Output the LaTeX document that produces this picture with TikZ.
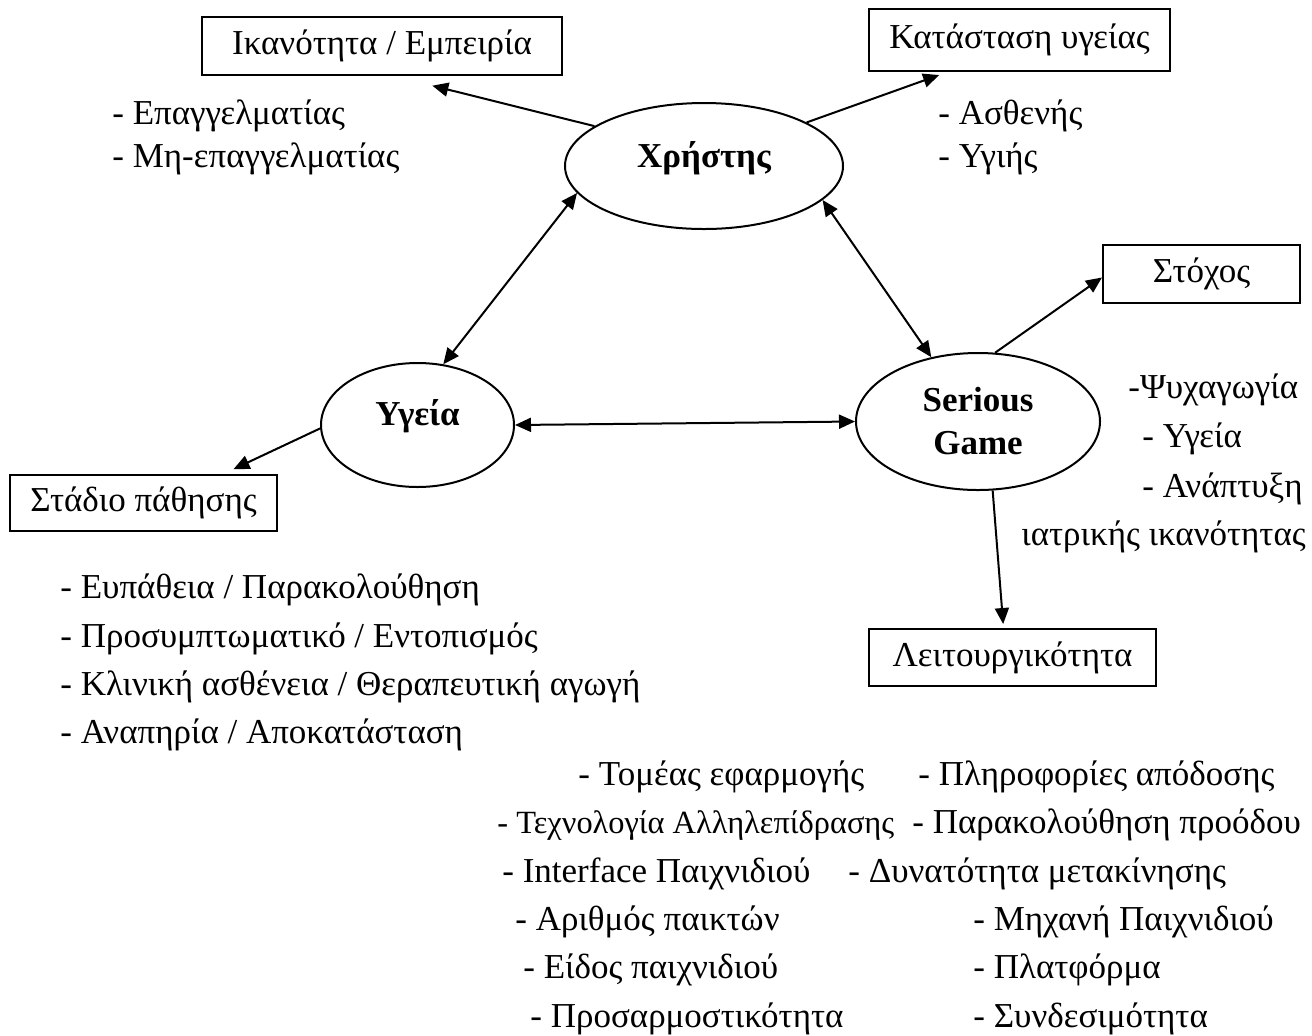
\documentclass[tikz,border=0pt]{standalone}
\usepackage{fontspec}
\setmainfont{Liberation Serif}
\usetikzlibrary{shapes.geometric, arrows.meta, positioning}

\newcommand{\diagfont}{\fontsize{17.5}{21.5}\selectfont}
\tikzstyle{topic} = [rectangle, draw=black, line width=1pt, text centered, inner sep=0pt]
\tikzstyle{actor} = [ellipse, draw=black, line width=1pt, text centered, inner sep=0pt, align=center, font=\diagfont\bfseries]
\tikzstyle{listitem} = [anchor=base west, inner sep=0pt]
\tikzstyle{arrow} = [line width=1pt, -{Triangle[length=8pt,width=7pt]}]
\tikzstyle{twoway} = [line width=1pt, {Triangle[length=8pt,width=7pt]}-{Triangle[length=8pt,width=7pt]}]

\begin{document}
\begin{tikzpicture}[x=0.5pt, y=-0.5pt, font=\diagfont]
\useasboundingbox (0,0) rectangle (1312,1035);

% Main actors
\node (user) [actor, minimum width=139pt, minimum height=63pt, text height=12pt, text depth=11pt] at (704,166) {Χρήστης};
\node (health) [actor, minimum width=96.5pt, minimum height=62pt, text height=12pt, text depth=12pt] at (417.5,425) {Υγεία};
\node (game) [actor, minimum width=122pt, minimum height=68.5pt] at (978,421.5) {Serious\\Game};

% Attribute boxes
\node (skill) [topic, minimum width=180pt, minimum height=29pt] at (382,46) {Ικανότητα / Εμπειρία};
\node (state) [topic, minimum width=150.5pt, minimum height=31pt] at (1019.5,40) {Κατάσταση υγείας};
\node (goal) [topic, minimum width=98.5pt, minimum height=29pt] at (1201.5,274) {Στόχος};
\node (func) [topic, minimum width=143.5pt, minimum height=28.5pt] at (1012.5,657.5) {Λειτουργικότητα};
\node (stage) [topic, minimum width=133.5pt, minimum height=28pt] at (143.5,503) {Στάδιο πάθησης};

% Lists
\node (skill1) [listitem] at (112,124) {- Επαγγελματίας};
\node (skill2) [listitem] at (112,167) {- Μη-επαγγελματίας};
\node (state1) [listitem] at (938,124) {- Ασθενής};
\node (state2) [listitem] at (938,167) {- Υγιής};

\node (stage1) [listitem] at (60,598) {- Ευπάθεια / Παρακολούθηση};
\node (stage2) [listitem] at (60,647) {- Προσυμπτωματικό / Εντοπισμός};
\node (stage3) [listitem] at (60,695) {- Κλινική ασθένεια / Θεραπευτική αγωγή};
\node (stage4) [listitem] at (60,743) {- Αναπηρία / Αποκατάσταση};

\node (goal1) [listitem] at (1128,398) {-Ψυχαγωγία};
\node (goal2) [listitem] at (1142,447) {- Υγεία};
\node (goal3) [listitem] at (1142,497) {- Ανάπτυξη};
\node (goal4) [listitem] at (1021,545) {ιατρικής ικανότητας};

\node (func1) [listitem] at (578,785) {- Τομέας εφαρμογής};
\node (func2) [listitem, font=\fontsize{16.2}{20}\selectfont] at (497,833) {- Τεχνολογία Αλληλεπίδρασης};
\node (func3) [listitem] at (502,882) {- Interface Παιχνιδιού};
\node (func4) [listitem] at (515,930) {- Αριθμός παικτών};
\node (func5) [listitem] at (523,978) {- Είδος παιχνιδιού};
\node (func6) [listitem] at (530,1027) {- Προσαρμοστικότητα};
\node (func7) [listitem] at (918,785) {- Πληροφορίες απόδοσης};
\node (func8) [listitem] at (912,833) {- Παρακολούθηση προόδου};
\node (func9) [listitem] at (848,882) {- Δυνατότητα μετακίνησης};
\node (func10) [listitem] at (973,930) {- Μηχανή Παιχνιδιού};
\node (func11) [listitem] at (973,978) {- Πλατφόρμα};
\node (func12) [listitem] at (973,1027) {- Συνδεσιμότητα};

% Connectors
\draw[arrow, shorten >=20pt] (user.160) -- (skill.291.6);
\draw[arrow, shorten >=4.5pt] (user.23) -- (state.204.5);
\draw[twoway] (user.192.6) -- (health.67.2);
\draw[twoway] (user.344.3) -- (game.126.3);
\draw[twoway] (health.east) -- (game.west);
\draw[arrow, shorten >=5.7pt] (health.182) -- (stage.20.2);
\draw[arrow] (game.76) -- (goal.182.3);
\draw[arrow, shorten >=2pt] (game.282.4) -- (func.107.9);

\end{tikzpicture}
\end{document}
